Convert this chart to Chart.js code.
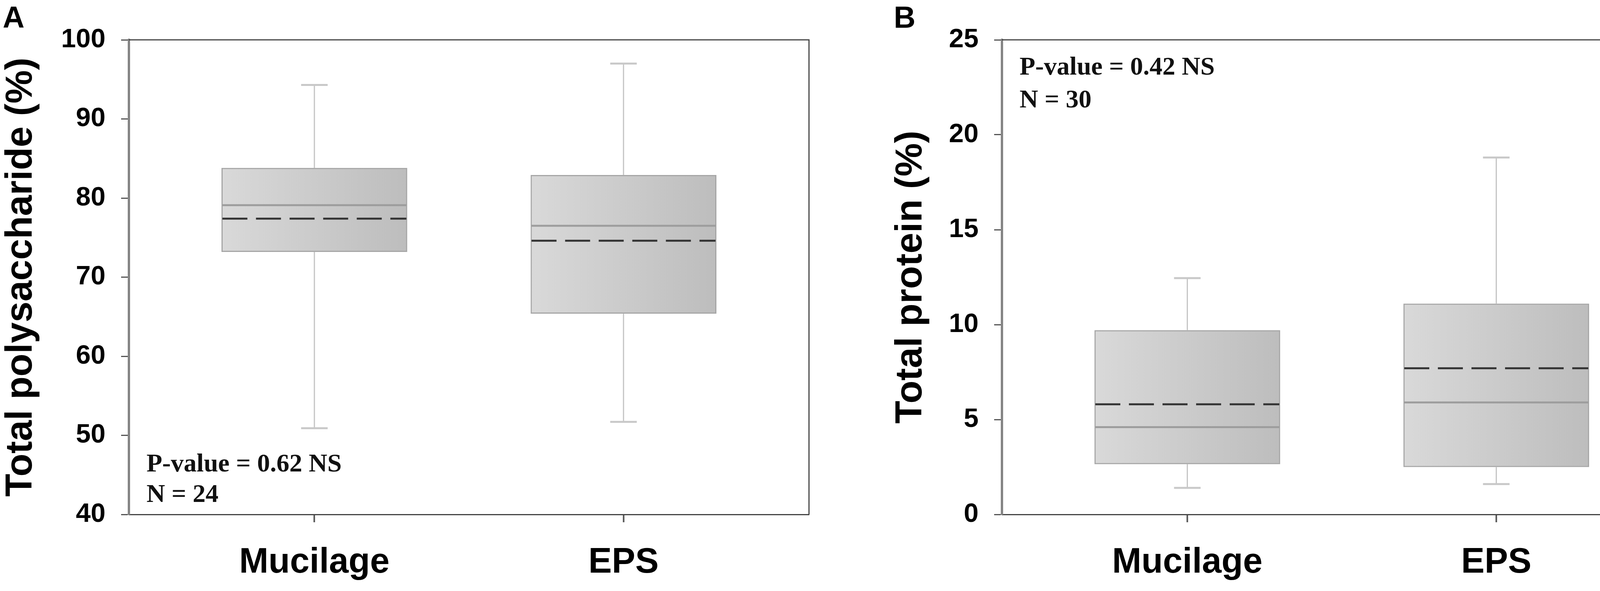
<!DOCTYPE html>
<html>
<head>
<meta charset="utf-8">
<script src="https://cdn.jsdelivr.net/npm/chart.js@4.4.1/dist/chart.umd.min.js"></script>
<style>
html, body { margin: 0; padding: 0; background: #fff; }
#wrap { position: relative; width: 4317px; height: 1513px; overflow: hidden; background: #fff; }
canvas { position: absolute; top: 0; }
#chartA { left: 0; }
#chartB { left: 2158px; }
.tag { position: absolute; top: 0; line-height: 1; font: bold 77px "Liberation Sans", Arial, sans-serif; color: #000; }
</style>
</head>
<body>
<div id="wrap">
  <canvas id="chartA" width="2158" height="1513"></canvas>
  <canvas id="chartB" width="2159" height="1513"></canvas>
  <div class="tag" style="left:7px">A</div>
  <div class="tag" style="left:2288px">B</div>
</div>
<script>
const groups = ['Mucilage', 'EPS'];

// Panel A - total polysaccharide (%)
const polyMin    = [50.9, 51.7];
const polyQ1     = [73.2, 65.4];
const polyMedian = [79.1, 76.5];
const polyMean   = [77.4, 74.6];
const polyQ3     = [83.8, 82.9];
const polyMax    = [94.3, 97.0];
const polyTicks  = [40, 50, 60, 70, 80, 90, 100];
const polyNotes  = ['P-value = 0.62 NS', 'N = 24'];

// Panel B - total protein (%)
const protMin    = [1.4, 1.6];
const protQ1     = [2.65, 2.5];
const protMedian = [4.6, 5.9];
const protMean   = [5.8, 7.7];
const protQ3     = [9.7, 11.1];
const protMax    = [12.45, 18.8];
const protTicks  = [0, 5, 10, 15, 20, 25];
const protNotes  = ['P-value = 0.42 NS', 'N = 30'];

const SANS = '"Liberation Sans", Arial, sans-serif';
const SERIF = '"Liberation Serif", "Times New Roman", serif';
const BOX_W = 475;

// whiskers, caps, median and mean lines on top of the floating bars
const boxParts = {
  id: 'boxParts',
  afterDatasetsDraw(chart, args, opts) {
    const { ctx, scales: { x, y } } = chart;
    const s = opts.stats;
    const seg = (x1, y1, x2, y2) => { ctx.beginPath(); ctx.moveTo(x1, y1); ctx.lineTo(x2, y2); ctx.stroke(); };
    ctx.save();
    s.max.forEach((_, i) => {
      const cx = x.getPixelForValue(i + 1);
      const half = BOX_W / 2;
      ctx.setLineDash([]);
      ctx.strokeStyle = '#c4c4c4';
      ctx.lineWidth = 3;
      seg(cx, y.getPixelForValue(s.q3[i]), cx, y.getPixelForValue(s.max[i]));
      seg(cx, y.getPixelForValue(s.q1[i]), cx, y.getPixelForValue(s.min[i]));
      ctx.lineWidth = 5;
      ctx.strokeStyle = '#c8c8c8';
      seg(cx - 34, y.getPixelForValue(s.max[i]), cx + 34, y.getPixelForValue(s.max[i]));
      seg(cx - 34, y.getPixelForValue(s.min[i]), cx + 34, y.getPixelForValue(s.min[i]));
      // median
      ctx.strokeStyle = '#9d9d9d';
      ctx.lineWidth = 5;
      seg(cx - half + 2, y.getPixelForValue(s.median[i]), cx + half - 2, y.getPixelForValue(s.median[i]));
      // mean
      ctx.strokeStyle = '#333';
      ctx.lineWidth = 5;
      ctx.setLineDash([64, 22]);
      seg(cx - half + 2, y.getPixelForValue(s.mean[i]), cx + half - 2, y.getPixelForValue(s.mean[i]));
    });
    ctx.restore();
  }
};

// top/right frame + the p-value notes
const frame = {
  id: 'frame',
  afterDraw(chart, args, opts) {
    const { ctx, chartArea: a } = chart;
    ctx.save();
    ctx.strokeStyle = '#444';
    ctx.lineWidth = 3;
    ctx.beginPath();
    ctx.moveTo(a.left, a.top);
    ctx.lineTo(a.right, a.top);
    ctx.lineTo(a.right, a.bottom);
    ctx.stroke();
    ctx.fillStyle = '#111';
    ctx.font = 'bold 66px ' + SERIF;
    ctx.textBaseline = 'alphabetic';
    opts.lines.forEach((t, i) => {
      const yy = opts.fromBottom ? a.bottom - opts.offsets[i] : a.top + opts.offsets[i];
      ctx.fillText(t, a.left + 45, yy);
    });
    ctx.restore();
  }
};

function makeChart(id, cfg) {
  const data = groups.map((g, i) => ({ x: i + 1, y: [cfg.q1[i], cfg.q3[i]] }));
  return new Chart(document.getElementById(id), {
    type: 'bar',
    data: {
      datasets: [{
        data: data,
        barThickness: BOX_W,
        borderColor: '#a6a6a6',
        borderWidth: 3,
        borderSkipped: false,
        backgroundColor: (c) => {
          const chart = c.chart;
          if (!chart.chartArea || c.dataIndex === undefined) return '#ccc';
          const cx = chart.scales.x.getPixelForValue(c.dataIndex + 1);
          const g = chart.ctx.createLinearGradient(cx - BOX_W / 2, 0, cx + BOX_W / 2, 0);
          g.addColorStop(0, '#d9d9d9');
          g.addColorStop(1, '#bdbdbd');
          return g;
        }
      }]
    },
    options: {
      responsive: false,
      devicePixelRatio: 1,
      animation: false,
      layout: { padding: { top: 102, right: cfg.padRight, left: 0, bottom: 0 } },
      plugins: {
        legend: { display: false },
        tooltip: { enabled: false },
        boxParts: { stats: { min: cfg.min, q1: cfg.q1, median: cfg.median, mean: cfg.mean, q3: cfg.q3, max: cfg.max } },
        frame: { lines: cfg.notes, fromBottom: cfg.notesBottom, offsets: cfg.noteOffsets }
      },
      scales: {
        x: {
          type: 'linear',
          min: 0.4,
          max: 2.6,
          offset: false,
          afterFit: (s) => { s.height = 196; },
          afterBuildTicks: (s) => { s.ticks = groups.map((g, i) => ({ value: i + 1 })); },
          grid: { offset: false, drawOnChartArea: false, drawTicks: true, tickLength: 20, tickColor: '#555', tickWidth: 4 },
          border: { display: true, color: '#444', width: 3 },
          ticks: {
            padding: 50,
            color: '#000',
            autoSkip: false,
            maxRotation: 0,
            font: { family: SANS, size: 90, weight: 'bold' },
            callback: (v) => groups[v - 1]
          }
        },
        y: {
          min: cfg.ticks[0],
          max: cfg.ticks[cfg.ticks.length - 1],
          afterFit: (s) => { s.width = cfg.axisLeft; },
          afterBuildTicks: (s) => { s.ticks = cfg.ticks.map((v) => ({ value: v })); },
          grid: { drawOnChartArea: false, drawTicks: true, tickLength: 20, tickColor: '#555', tickWidth: 3 },
          border: { display: true, color: '#858585', width: 6 },
          ticks: {
            padding: 40,
            color: '#000',
            autoSkip: false,
            font: { family: SANS, size: 68, weight: 'bold' }
          },
          title: {
            display: true,
            text: cfg.title,
            color: '#000',
            padding: { top: cfg.titlePad, bottom: 0 },
            font: { family: SANS, size: 96, weight: 'bold', lineHeight: 1 }
          }
        }
      }
    },
    plugins: [boxParts, frame]
  });
}

makeChart('chartA', {
  min: polyMin, q1: polyQ1, median: polyMedian, mean: polyMean, q3: polyQ3, max: polyMax,
  ticks: polyTicks, notes: polyNotes, notesBottom: true, noteOffsets: [110, 32],
  title: 'Total polysaccharide (%)', titlePad: 7, axisLeft: 330, padRight: 87
});

makeChart('chartB', {
  min: protMin, q1: protQ1, median: protMedian, mean: protMean, q3: protQ3, max: protMax,
  ticks: protTicks, notes: protNotes, notesBottom: false, noteOffsets: [89, 173],
  title: 'Total protein (%)', titlePad: 127, axisLeft: 407, padRight: 12
});
</script>
</body>
</html>
